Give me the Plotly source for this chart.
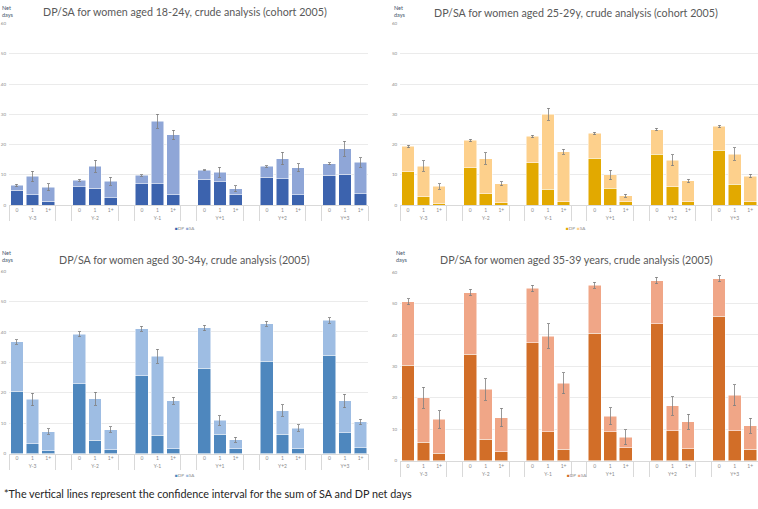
import plotly.graph_objects as go

# Kategorien
groups = ["Y-3", "Y-2", "Y-1", "Y+1", "Y+2", "Y+3"]
levels = ["0", "1", "1+"]

titles = [
    "DP/SA for women aged 18-24y, crude analysis (cohort 2005)",
    "DP/SA for women aged 25-29y, crude analysis (cohort 2005)",
    "DP/SA for women aged 30-34y, crude analysis (2005)",
    "DP/SA for women aged 35-39 years, crude analysis (2005)",
]

# Werte (Netto-Tage), je Gruppe: 0, 1, 1+
dp_1824 = [4.9, 3.5, 1.3, 6.0, 5.5, 2.4, 7.1, 7.0, 3.4, 8.5, 7.8, 3.4, 9.2, 8.8, 3.5, 9.9, 10.2, 3.7]
sa_1824 = [1.6, 6.0, 4.6, 2.2, 7.3, 5.5, 2.7, 20.8, 19.8, 3.0, 3.1, 2.0, 3.6, 6.6, 8.9, 3.8, 8.5, 10.4]
ci_1824 = [0.4, 1.7, 1.1, 0.3, 2.0, 1.3, 0.3, 2.3, 1.6, 0.2, 1.7, 1.0, 0.3, 2.0, 1.3, 0.3, 2.5, 1.5]

dp_2529 = [11.1, 2.7, 0.4, 12.4, 3.7, 0.8, 14.0, 5.2, 1.1, 15.5, 5.6, 1.1, 16.8, 6.1, 1.1, 18.1, 6.9, 1.1]
sa_2529 = [8.3, 10.2, 5.8, 9.0, 11.7, 6.3, 8.7, 24.9, 16.6, 8.2, 4.4, 2.0, 8.2, 8.7, 6.9, 7.9, 10.0, 8.5]
ci_2529 = [0.4, 1.7, 0.9, 0.4, 1.9, 0.7, 0.4, 2.0, 0.8, 0.4, 1.6, 0.5, 0.4, 1.8, 0.6, 0.4, 2.0, 0.6]

dp_3034 = [20.5, 3.3, 0.9, 23.0, 4.4, 1.3, 25.6, 6.0, 1.6, 28.1, 6.3, 1.6, 30.3, 6.3, 1.6, 32.3, 6.8, 2.0]
sa_3034 = [16.2, 14.5, 6.3, 16.3, 13.6, 6.6, 15.4, 26.0, 15.8, 13.2, 4.6, 3.0, 12.4, 7.8, 6.8, 11.5, 10.5, 8.4]
ci_3034 = [0.8, 2.1, 0.9, 0.8, 2.1, 0.9, 0.8, 2.3, 1.2, 0.9, 1.6, 0.8, 0.8, 1.9, 1.0, 0.9, 2.2, 0.9]

dp_3539 = [30.3, 5.8, 2.4, 33.8, 6.8, 2.9, 37.6, 9.2, 3.7, 40.6, 9.2, 4.1, 43.6, 9.5, 3.8, 46.0, 9.5, 3.6]
sa_3539 = [20.3, 14.2, 10.7, 19.7, 15.9, 10.8, 17.2, 30.4, 20.9, 15.2, 4.9, 3.4, 13.7, 7.9, 8.6, 11.9, 11.3, 7.5]
ci_3539 = [0.9, 3.3, 2.8, 1.0, 3.4, 2.9, 1.0, 3.9, 3.3, 1.0, 2.7, 2.4, 1.0, 3.0, 2.4, 1.0, 3.4, 2.4]

colors = [
    ("#3C63AE", "#8FA6D7"),
    ("#E2A900", "#FDD08C"),
    ("#4E87BE", "#9EBDE3"),
    ("#D26E28", "#F0A687"),
]

panels = [
    (dp_1824, sa_1824, ci_1824),
    (dp_2529, sa_2529, ci_2529),
    (dp_3034, sa_3034, ci_3034),
    (dp_3539, sa_3539, ci_3539),
]

# Layout-Bereiche (Papierkoordinaten)
doms = [
    dict(x=[0.012, 0.486], y=[0.597, 0.957]),
    dict(x=[0.528, 1.0], y=[0.597, 0.957]),
    dict(x=[0.012, 0.486], y=[0.104, 0.466]),
    dict(x=[0.528, 1.0], y=[0.090, 0.464]),
]
title_pos = [(0.244, 0.982), (0.760, 0.980), (0.244, 0.489), (0.761, 0.489)]
net_pos = [(0.0, 0.998), (0.517, 0.998), (0.0, 0.512), (0.520, 0.511)]
leg_pos = [(0.244, 0.550), (0.760, 0.550), (0.244, 0.061), (0.761, 0.061)]

# Kategorieachse mit Leerplatz zwischen den Gruppen
outer, inner, idx = [], [], []
for g, grp in enumerate(groups):
    if g > 0:
        outer.append(" " * g)
        inner.append(" ")
        idx.append(None)
    for l, lev in enumerate(levels):
        outer.append(grp)
        inner.append(lev)
        idx.append(g * 3 + l)


def spread(vals):
    return [None if i is None else vals[i] for i in idx]


fig = go.Figure()
annotations = []
grey = "#7F7F7F"

for k, (dp, sa, ci) in enumerate(panels):
    ax = "" if k == 0 else str(k + 1)
    c_dp, c_sa = colors[k]
    fig.add_trace(go.Bar(
        x=[outer, inner], y=spread(dp), name="DP",
        marker=dict(color=c_dp, line=dict(color="white", width=0.5)),
        xaxis="x" + ax, yaxis="y" + ax, showlegend=False,
    ))
    fig.add_trace(go.Bar(
        x=[outer, inner], y=spread(sa), name="SA",
        marker=dict(color=c_sa, line=dict(color="white", width=0.5)),
        error_y=dict(type="data", array=spread(ci), color=grey, thickness=0.8, width=1.5),
        xaxis="x" + ax, yaxis="y" + ax, showlegend=False,
    ))

    fig.layout["xaxis" + ax] = dict(
        domain=doms[k]["x"], anchor="y" + ax, type="multicategory",
        showline=True, linecolor="#D9D9D9", linewidth=0.8,
        showdividers=True, dividercolor="#D9D9D9", dividerwidth=0.8,
        tickfont=dict(size=5, color="#8C8C8C"), showgrid=False,
    )
    fig.layout["yaxis" + ax] = dict(
        domain=doms[k]["y"], anchor="x" + ax, range=[0, 60], dtick=10,
        gridcolor="#EBEBEB", gridwidth=0.8, zeroline=False,
        tickfont=dict(size=4.5, color="#8C8C8C"), ticklabelstandoff=2,
    )

    tx, ty = title_pos[k]
    annotations.append(dict(
        text=titles[k], x=tx, y=ty, xref="paper", yref="paper",
        xanchor="center", yanchor="middle", showarrow=False,
        font=dict(family="Lato", size=10.7, color="#595959"),
    ))
    nx, ny = net_pos[k]
    annotations.append(dict(
        text="Net<br>days", x=nx, y=ny, xref="paper", yref="paper",
        xanchor="left", yanchor="top", align="left", showarrow=False,
        font=dict(family="Lato", size=5.5, color="#44546A"),
    ))
    lx, ly = leg_pos[k]
    annotations.append(dict(
        text=f"<span style='color:{c_dp}'>■</span>DP  <span style='color:{c_sa}'>■</span>SA",
        x=lx, y=ly, xref="paper", yref="paper",
        xanchor="center", yanchor="middle", showarrow=False,
        font=dict(family="Lato", size=4.5, color="#8C8C8C"),
    ))

annotations.append(dict(
    text="*The vertical lines represent the confidence interval for the sum of SA and DP net days",
    x=0.003, y=0.024, xref="paper", yref="paper", xanchor="left", yanchor="middle",
    showarrow=False, font=dict(family="Lato", size=10.8, color="#262626"),
))

fig.update_layout(
    width=758, height=509,
    margin=dict(l=0, r=0, t=0, b=0),
    barmode="stack", bargap=0.18,
    paper_bgcolor="white", plot_bgcolor="white",
    annotations=annotations,
    font=dict(family="Lato"),
)

# Seitenrand des Browsers entfernen, damit die Grafik genau ins Fenster passt
fig.write_html("out.html", config={"displayModeBar": False},
               post_script="document.body.style.margin='0';")
